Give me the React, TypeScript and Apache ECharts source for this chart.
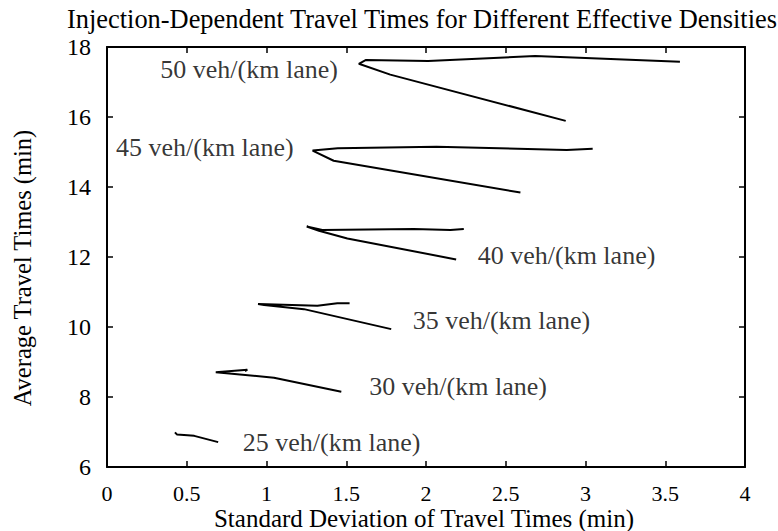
import React, { useEffect, useRef } from "react";
import * as echarts from "echarts";

const densityLabels = [
  "25 veh/(km lane)",
  "30 veh/(km lane)",
  "35 veh/(km lane)",
  "40 veh/(km lane)",
  "45 veh/(km lane)",
  "50 veh/(km lane)",
];

const sd25 = [0.697, 0.547, 0.505, 0.438, 0.426];
const tt25 = [6.71, 6.89, 6.91, 6.93, 6.99];

const sd30 = [1.469, 1.047, 0.682, 0.88, 0.865];
const tt30 = [8.15, 8.55, 8.71, 8.78, 8.74];

const sd35 = [1.782, 1.235, 0.985, 0.947, 1.319, 1.444, 1.521];
const tt35 = [9.94, 10.51, 10.63, 10.66, 10.61, 10.68, 10.68];

const sd40 = [2.189, 1.507, 1.329, 1.252, 1.35, 1.924, 2.153, 2.237];
const tt40 = [11.93, 12.53, 12.75, 12.87, 12.77, 12.8, 12.77, 12.8];

const sd45 = [2.592, 1.421, 1.289, 1.447, 2.066, 2.882, 3.045];
const tt45 = [13.84, 14.75, 15.04, 15.11, 15.15, 15.06, 15.09];

const sd50 = [2.876, 1.776, 1.579, 1.624, 2.013, 2.684, 3.592];
const tt50 = [15.89, 17.21, 17.52, 17.63, 17.6, 17.74, 17.58];

const labelSd = [1.408, 2.201, 2.473, 2.881, 0.613, 0.891];
const labelTt = [6.714, 8.29, 10.19, 12.05, 15.13, 17.36];

const FONT = "'Liberation Serif', 'Times New Roman', serif";

const allSd = [sd25, sd30, sd35, sd40, sd45, sd50];
const allTt = [tt25, tt30, tt35, tt40, tt45, tt50];

export default function App() {
  const ref = useRef<HTMLDivElement>(null);
  useEffect(() => {
    if (!ref.current) return;
    const chart = echarts.init(ref.current, null, { renderer: "svg" });
    const axisCommon = {
      axisLine: { show: true, onZero: false, lineStyle: { color: "#000", width: 2 } },
      axisTick: { show: true, inside: true, length: 6, lineStyle: { color: "#000", width: 1.5 } },
      splitLine: { show: false },
    };
    const lineSeries = allSd.map((xs, i) => ({
      type: "line",
      data: xs.map((x, j) => [x, allTt[i][j]]),
      symbol: "none",
      lineStyle: { color: "#000", width: 2 },
      silent: true,
    }));
    chart.setOption({
      animation: false,
      backgroundColor: "#fff",
      textStyle: { fontFamily: FONT },
      title: {
        text: "Injection-Dependent Travel Times for Different Effective Densities",
        left: 67,
        top: 6,
        padding: 0,
        textStyle: { fontFamily: FONT, fontSize: 26.4, fontWeight: "normal", color: "#000" },
      },
      graphic: [
        {
          type: "text",
          x: 22,
          y: 268,
          rotation: Math.PI / 2,
          style: {
            text: "Average Travel Times (min)",
            fontFamily: FONT,
            fontSize: 24.5,
            fill: "#000",
            align: "center",
            verticalAlign: "middle",
          },
        },
        {
          type: "text",
          x: 424,
          y: 518.5,
          style: {
            text: "Standard Deviation of Travel Times (min)",
            fontFamily: FONT,
            fontSize: 25,
            lineHeight: 25,
            fill: "#000",
            align: "center",
            verticalAlign: "middle",
          },
        },
      ],
      grid: { left: 107, right: 33, top: 47, bottom: 64, outerBoundsMode: "none", containLabel: false },
      xAxis: [
        {
          type: "value",
          position: "bottom",
          min: 0,
          max: 4,
          interval: 0.5,
          ...axisCommon,
          axisLabel: { color: "#000", fontFamily: FONT, fontSize: 22, lineHeight: 22, margin: 15 },
        },
        {
          type: "value",
          position: "top",
          min: 0,
          max: 4,
          interval: 0.5,
          ...axisCommon,
          axisLabel: { show: false },
        },
      ],
      yAxis: [
        {
          type: "value",
          position: "left",
          min: 6,
          max: 18,
          interval: 2,
          ...axisCommon,
          axisLabel: { color: "#000", fontFamily: FONT, fontSize: 24, margin: 16 },
        },
        {
          type: "value",
          position: "right",
          min: 6,
          max: 18,
          interval: 2,
          ...axisCommon,
          axisLabel: { show: false },
        },
      ],
      series: [
        ...lineSeries,
        {
          type: "scatter",
          symbolSize: 0,
          silent: true,
          data: labelSd.map((x, i) => ({ value: [x, labelTt[i]], name: densityLabels[i] })),
          label: {
            show: true,
            position: "inside",
            formatter: (p: any) => p.name,
            fontFamily: FONT,
            fontSize: 26,
            color: "#000",
            align: "center",
            verticalAlign: "middle",
          },
        },
      ],
    });
    return () => chart.dispose();
  }, []);
  return (
    <div
      ref={ref}
      style={{ position: "absolute", left: 0, top: 0, width: 778, height: 531 }}
    />
  );
}
